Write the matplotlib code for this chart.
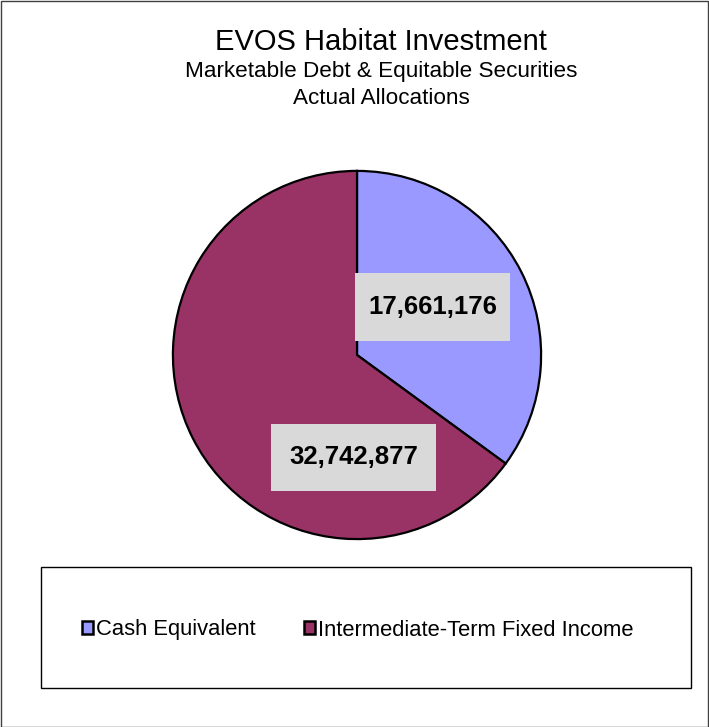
import matplotlib.pyplot as plt
from matplotlib.patches import Rectangle

plt.rcParams['font.family'] = ['Liberation Sans', 'DejaVu Sans']

# data
labels = ['Cash Equivalent', 'Intermediate-Term Fixed Income']
values = [17661176, 32742877]
colors = ['#9999FF', '#993366']
# label box centres (in pie radius units) and box widths (px)
label_pos = [(0.41, 0.26), (-0.019, -0.556)]
box_w = [155, 165]

fig = plt.figure(figsize=(7.09, 7.27), dpi=100)
fig.patch.set_facecolor('white')

# outer border
fig.patches.append(Rectangle((0.001, 0.0), 0.998, 0.998, transform=fig.transFigure,
                             fill=False, edgecolor='#404040', linewidth=1.0))

ax = fig.add_axes([0.2426, 0.2572, 0.5219, 0.509])
wedges, _ = ax.pie(values, colors=colors, startangle=90, counterclock=False,
                   wedgeprops=dict(edgecolor='black', linewidth=1.6))
ax.set_xlim(-1.005, 1.005)
ax.set_ylim(-1.005, 1.005)
ax.set_aspect('equal')

# grey label boxes (radius is 185 px)
bh = 68/185
for (x, y), v, w in zip(label_pos, values, box_w):
    bw = w/185
    ax.add_patch(Rectangle((x - bw/2, y - bh/2), bw, bh, facecolor='#D9D9D9',
                           edgecolor='none', zorder=3))
    ax.text(x, y, format(v, ','), ha='center', va='center', fontsize=18.5,
            fontweight='bold', color='black', zorder=4)

# titles
tx = 381/709
fig.text(tx, 1 - 42/727, 'EVOS Habitat Investment', ha='center', va='center', fontsize=21)
fig.text(tx, 1 - 72/727, 'Marketable Debt & Equitable Securities', ha='center', va='center', fontsize=16.2)
fig.text(tx, 1 - 98/727, 'Actual Allocations', ha='center', va='center', fontsize=16.2)

# legend box
fig.patches.append(Rectangle((41/709, 1 - 688/727), 650/709, 121/727, transform=fig.transFigure,
                             fill=False, edgecolor='black', linewidth=1.0))
leg = fig.legend(wedges, labels, loc='center', bbox_to_anchor=(358/709, 1 - 630/727),
                 ncol=2, frameon=False, fontsize=15.8, handlelength=0.5, handleheight=0.5,
                 handletextpad=0.15, columnspacing=2.2)
for h in leg.legend_handles:
    h.set_linewidth(1.8)

fig.savefig('out.png', dpi=100, facecolor='white')
